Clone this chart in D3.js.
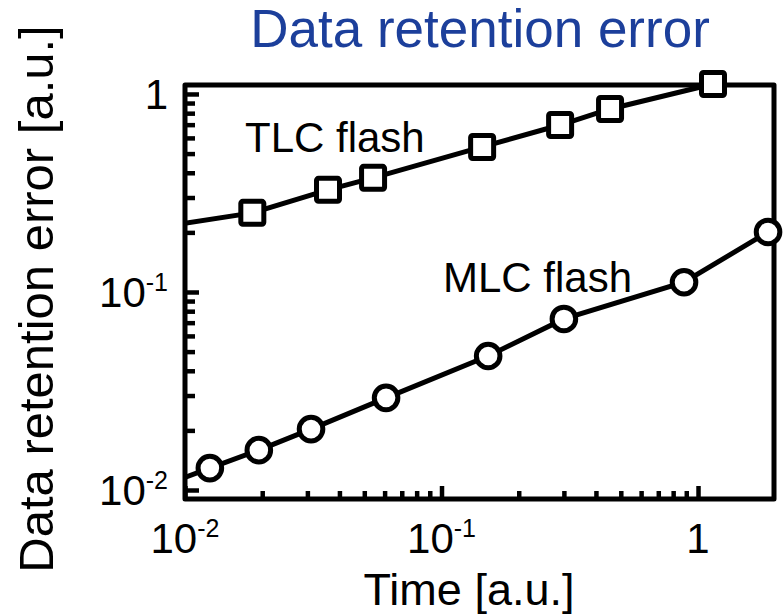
<!DOCTYPE html>
<html>
<head>
<meta charset="utf-8">
<script src="https://cdn.jsdelivr.net/npm/d3@7"></script>
<style>
  body { margin: 0; background: #fff; }
  svg { display: block; font-family: "Liberation Sans", Arial, sans-serif; }
</style>
</head>
<body>
<div id="chart"></div>
<script>
// Time [a.u.] and error [a.u.]
// first point of each series lies left of the frame (line enters from the axis)
const tlcTime  = [0.0080, 0.0183, 0.0361, 0.0541, 0.144, 0.290, 0.454, 1.144];
const tlcError = [0.213, 0.251, 0.328, 0.377, 0.540, 0.697, 0.840, 1.123];
const mlcTime  = [0.0080, 0.0125, 0.0194, 0.0310, 0.0608, 0.152, 0.300, 0.882, 1.875];
const mlcError = [0.0104, 0.0129, 0.0159, 0.0203, 0.0292, 0.0475, 0.0731, 0.112, 0.201];

const majorTicks = [0.01, 0.1, 1];
const tickLabels = [["10", "-2"], ["10", "-1"], ["1", ""]];

const width = 783, height = 616;
const margin = { left: 185, right: 9, top: 85, bottom: 117 };

const svg = d3.select("#chart").append("svg")
    .attr("width", width)
    .attr("height", height);

// Scales (log both ways)
const x = d3.scaleLog()
    .domain([0.01, 1.978])
    .range([margin.left, width - margin.right]);
const y = d3.scaleLog()
    .domain([0.009007, 1.11])
    .range([height - margin.bottom, margin.top]);

const minorTicks = d3.range(2, 10).flatMap(d => [d * 0.01, d * 0.1]);

// Clip only the left side so lines enter through the y axis
svg.append("clipPath").attr("id", "clip")
  .append("rect")
    .attr("x", margin.left)
    .attr("y", 0)
    .attr("width", width)
    .attr("height", height);

// Axes ticks (inward)
function styleAxis(g) {
    g.select(".domain").remove();
    g.selectAll("line").attr("stroke", "#000").attr("stroke-width", 4.5);
    g.selectAll("text").remove();
}

svg.append("g")
    .attr("transform", `translate(0,${height - margin.bottom})`)
    .call(d3.axisBottom(x).tickValues(minorTicks.filter(d => d < 1.978)).tickSize(-8))
    .call(styleAxis);
svg.append("g")
    .attr("transform", `translate(0,${height - margin.bottom})`)
    .call(d3.axisBottom(x).tickValues(majorTicks).tickSize(-13))
    .call(styleAxis);
svg.append("g")
    .attr("transform", `translate(${margin.left},0)`)
    .call(d3.axisLeft(y).tickValues(minorTicks).tickSize(-10))
    .call(styleAxis);
svg.append("g")
    .attr("transform", `translate(${margin.left},0)`)
    .call(d3.axisLeft(y).tickValues(majorTicks).tickSize(-14))
    .call(styleAxis);

// Frame
svg.append("rect")
    .attr("x", margin.left)
    .attr("y", margin.top)
    .attr("width", width - margin.right - margin.left)
    .attr("height", height - margin.bottom - margin.top)
    .attr("fill", "none")
    .attr("stroke", "#000")
    .attr("stroke-width", 5)
    .attr("stroke-linejoin", "round");

// Tick labels with superscripts
function addLabel(sel, parts) {
    sel.append("tspan").text(parts[0]);
    if (parts[1]) {
        sel.append("tspan")
            .attr("font-size", 25)
            .attr("dy", -16)
            .text(parts[1]);
    }
}

svg.append("g").selectAll("text")
    .data(majorTicks)
    .join("text")
    .attr("x", d => x(d))
    .attr("y", 553)
    .attr("text-anchor", "middle")
    .attr("font-size", 42)
    .each(function(d, i) { addLabel(d3.select(this), tickLabels[i]); });

svg.append("g").selectAll("text")
    .data(majorTicks)
    .join("text")
    .attr("x", 168)
    .attr("y", d => y(d) + 15)
    .attr("text-anchor", "end")
    .attr("font-size", 42)
    .each(function(d, i) { addLabel(d3.select(this), tickLabels[i]); });

// Series
const plot = svg.append("g").attr("clip-path", "url(#clip)");
const line = d3.line().x(d => x(d[0])).y(d => y(d[1]));

const tlc = d3.zip(tlcTime, tlcError);
const mlc = d3.zip(mlcTime, mlcError);

plot.append("path")
    .datum(tlc)
    .attr("d", line)
    .attr("fill", "none")
    .attr("stroke", "#000")
    .attr("stroke-width", 5);
plot.append("path")
    .datum(mlc)
    .attr("d", line)
    .attr("fill", "none")
    .attr("stroke", "#000")
    .attr("stroke-width", 5);

const sq = 23;
plot.selectAll(".sq")
    .data(tlc)
    .join("rect")
    .attr("class", "sq")
    .attr("x", d => x(d[0]) - sq / 2)
    .attr("y", d => y(d[1]) - sq / 2)
    .attr("width", sq)
    .attr("height", sq)
    .attr("rx", 2)
    .attr("fill", "#fff")
    .attr("stroke", "#000")
    .attr("stroke-width", 5);

plot.selectAll(".ci")
    .data(mlc)
    .join("circle")
    .attr("class", "ci")
    .attr("cx", d => x(d[0]))
    .attr("cy", d => y(d[1]))
    .attr("r", 11.8)
    .attr("fill", "#fff")
    .attr("stroke", "#000")
    .attr("stroke-width", 5);

// Series labels
svg.append("text")
    .attr("x", 245)
    .attr("y", 152)
    .attr("font-size", 42)
    .text("TLC flash");
svg.append("text")
    .attr("x", 443)
    .attr("y", 292)
    .attr("font-size", 42)
    .text("MLC flash");

// Title and axis titles
svg.append("text")
    .attr("x", 480)
    .attr("y", 47)
    .attr("text-anchor", "middle")
    .attr("font-size", 53)
    .attr("fill", "#1c3f9b")
    .text("Data retention error");

svg.append("text")
    .attr("x", 469)
    .attr("y", 605)
    .attr("text-anchor", "middle")
    .attr("font-size", 45)
    .text("Time [a.u.]");

svg.append("text")
    .attr("transform", "translate(53,299) rotate(-90)")
    .attr("text-anchor", "middle")
    .attr("font-size", 49)
    .text("Data retention error [a.u.]");
</script>
</body>
</html>
